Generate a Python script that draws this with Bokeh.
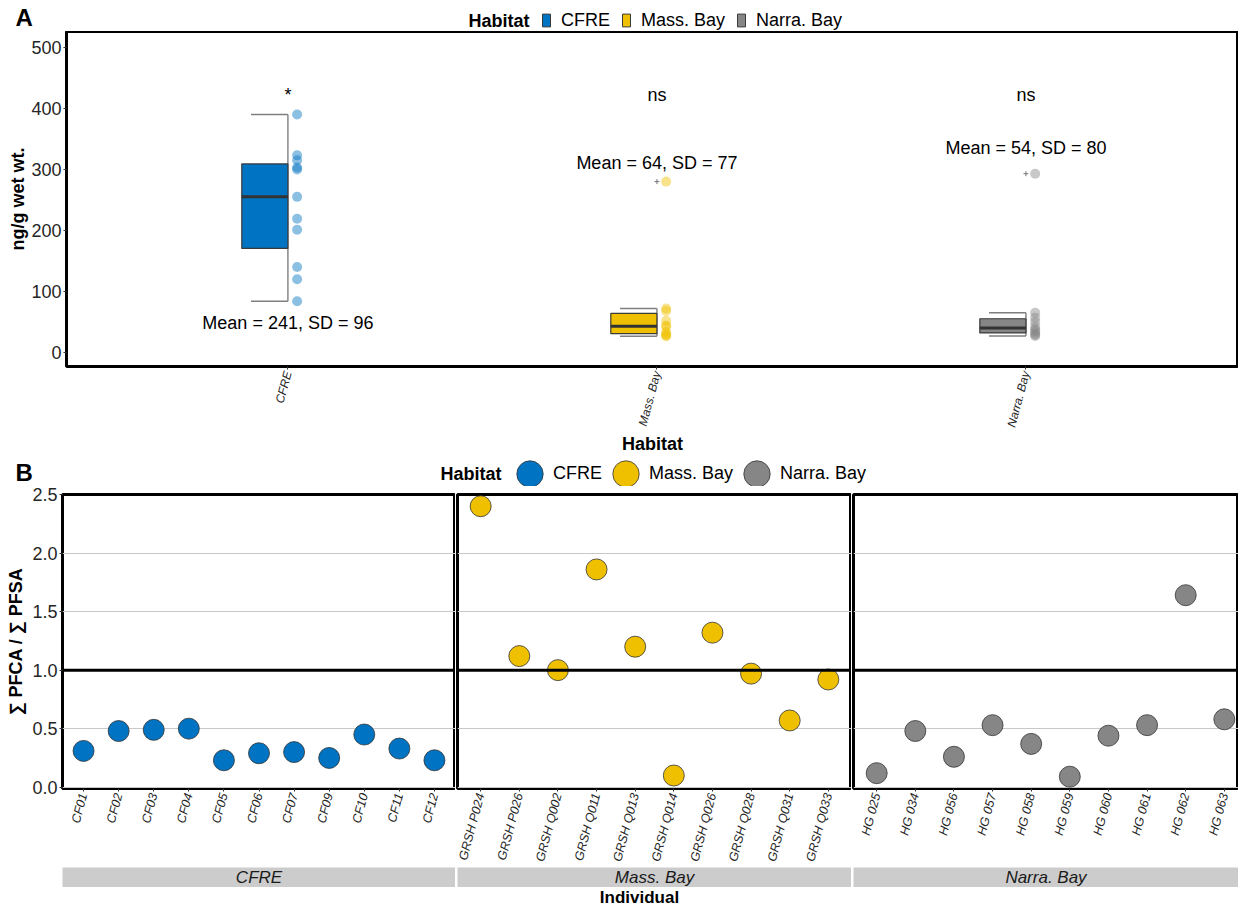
import numpy as np
from bokeh.plotting import figure
from bokeh.models import (Range1d, FixedTicker, Legend, LegendItem, Label, Span,
                          NumeralTickFormatter, ColumnDataSource)
from bokeh.layouts import column, row
from bokeh.embed import file_html
from bokeh.resources import INLINE
from bokeh.core.properties import value

FONT = "Liberation Sans"
TXT = "#262626"
W = 1238

habitats = ["CFRE", "Mass. Bay", "Narra. Bay"]
colors = ["#0073C2", "#EFC000", "#868686"]

# Panel A: concentration per individual (ng/g wet wt.)
conc_cfre = [390, 323, 315, 303, 300, 255, 219, 201, 140, 120, 84]
conc_mass = [280, 72, 68, 52, 44, 42, 33, 30, 28, 26.5]
conc_narra = [293, 65, 57, 50, 42, 38, 35, 31, 29, 27]
mean_vals = [241, 64, 54]
sd_vals = [96, 77, 80]
sig_labels = ["*", "ns", "ns"]

# Panel B: sum PFCA / sum PFSA per individual
ind_cfre = ["CF01", "CF02", "CF03", "CF04", "CF05", "CF06", "CF07", "CF09", "CF10", "CF11", "CF12"]
ratio_cfre = [0.31, 0.48, 0.49, 0.50, 0.23, 0.29, 0.30, 0.25, 0.45, 0.33, 0.23]
ind_mass = ["GRSH P024", "GRSH P026", "GRSH Q002", "GRSH Q011", "GRSH Q013",
            "GRSH Q014", "GRSH Q026", "GRSH Q028", "GRSH Q031", "GRSH Q033"]
ratio_mass = [2.40, 1.12, 1.00, 1.86, 1.20, 0.10, 1.32, 0.97, 0.57, 0.92]
ind_narra = ["HG 025", "HG 034", "HG 056", "HG 057", "HG 058",
             "HG 059", "HG 060", "HG 061", "HG 062", "HG 063"]
ratio_narra = [0.12, 0.48, 0.26, 0.53, 0.37, 0.09, 0.44, 0.53, 1.64, 0.58]

# annotation placement (data units)
mean_label_y = [48, 311, 335]
sig_label_y = [422, 422, 422]


def style_axis(ax, label_size="18px", title_standoff=3):
    ax.major_label_text_font = FONT
    ax.major_label_text_font_size = label_size
    ax.major_label_text_color = TXT
    ax.axis_label_text_font = FONT
    ax.axis_label_text_font_size = "18px"
    ax.axis_label_text_font_style = "bold"
    ax.axis_label_text_color = "black"
    ax.axis_line_color = None
    ax.major_tick_in = 0
    ax.major_tick_out = 3
    ax.major_tick_line_color = "#333333"
    ax.minor_tick_line_color = None
    ax.major_label_standoff = 2
    ax.axis_label_standoff = title_standoff


def bare_fig(width, height):
    """A bare canvas in pixel units for panel letters, legends and titles."""
    f = figure(width=width, height=height, x_range=Range1d(0, width), y_range=Range1d(0, height),
               min_border_left=0, min_border_right=0, min_border_top=0, min_border_bottom=0,
               x_axis_location=None, y_axis_location=None,
               output_backend="svg", toolbar_location=None, outline_line_color=None)
    f.grid.visible = False
    return f


def header(height, letter, letter_y, title_x, title_y):
    h = bare_fig(W, height)
    h.add_layout(Label(x=15, y=letter_y, text=letter, text_font=FONT, text_font_size="24px",
                       text_font_style="bold", text_color="black",
                       text_align="left", text_baseline="middle"))
    h.add_layout(Label(x=title_x, y=title_y, text="Habitat", text_font=FONT,
                       text_font_size="18px", text_font_style="bold", text_color="black",
                       text_align="left", text_baseline="middle"))
    return h


def legend(items, loc, gw, gh, standoff, spacing):
    return Legend(items=items, orientation="horizontal", location=loc,
                  glyph_width=gw, glyph_height=gh, label_standoff=standoff, spacing=spacing,
                  padding=0, margin=0, border_line_color=None, background_fill_alpha=0,
                  label_text_font=FONT, label_text_font_size="18px", label_text_color="black")


# ---------------- Panel A ----------------
headA = header(31, "A", 14, 468, 11)
keyA = [headA.quad(left=[0], right=[1], bottom=[0], top=[1], fill_color=col,
                   line_color="#3A3A3A", line_width=1, visible=False) for col in colors]
headA.add_layout(legend([LegendItem(label=h, renderers=[r]) for h, r in zip(habitats, keyA)],
                        (541, 0.5), 10, 16, 10, 11), "center")

pa = figure(width=W, height=425, x_range=Range1d(0.4, 3.576), y_range=Range1d(-23, 526),
            min_border_left=66, min_border_right=0, min_border_top=0, min_border_bottom=88,
            output_backend="svg", toolbar_location=None)
pa.outline_line_color = "black"
pa.outline_line_width = 3
pa.grid.visible = False

for i, (vals, col) in enumerate(zip([conc_cfre, conc_mass, conc_narra], colors)):
    c = i + 1
    v = np.array(vals, dtype=float)
    q1, med, q3 = np.percentile(v, [25, 50, 75])
    iqr = q3 - q1
    keep = (v >= q1 - 1.5 * iqr) & (v <= q3 + 1.5 * iqr)
    lo, hi = v[keep].min(), v[keep].max()
    out = v[~keep]
    pa.segment(x0=[c, c - 0.1, c - 0.1], y0=[lo, lo, hi], x1=[c, c, c], y1=[hi, lo, hi],
               line_color="#7F7F7F", line_width=1.4)
    pa.quad(left=[c - 0.125], right=[c], bottom=[q1], top=[q3],
            fill_color=col, line_color="#3A3A3A", line_width=1.2)
    pa.segment(x0=[c - 0.125], x1=[c], y0=[med], y1=[med], line_color="#333333", line_width=3)
    if len(out):
        pa.scatter(x=[c] * len(out), y=out, marker="cross", size=5, line_color="#777777")
    pa.scatter(x=[c + 0.025] * len(v), y=v, size=10, fill_color=col, fill_alpha=0.45,
               line_color=None)

stat_src = ColumnDataSource(dict(
    x=[1, 2, 3],
    my=mean_label_y,
    sy=sig_label_y,
    mtxt=[f"Mean = {m}, SD = {s}" for m, s in zip(mean_vals, sd_vals)],
    stxt=sig_labels,
))
pa.text(x="x", y="my", text="mtxt", source=stat_src, text_font=value(FONT),
        text_font_size="18px", text_align="center", text_baseline="middle", text_color="black")
pa.text(x="x", y="sy", text="stxt", source=stat_src, text_font=value(FONT),
        text_font_size="18px", text_align="center", text_baseline="middle", text_color="black")

pa.xaxis.ticker = FixedTicker(ticks=[1, 2, 3])
pa.xaxis.major_label_overrides = {1: habitats[0], 2: habitats[1], 3: habitats[2]}
pa.yaxis.ticker = FixedTicker(ticks=[0, 100, 200, 300, 400, 500])
style_axis(pa.xaxis[0], "12px", 0)
style_axis(pa.yaxis[0], "18px", 0)
pa.xaxis.major_label_text_font_style = "italic"
pa.xaxis.major_label_orientation = np.deg2rad(75)
pa.xaxis.axis_label = "Habitat"
pa.yaxis.axis_label = "ng/g wet wt."

# ---------------- Panel B ----------------
headB = header(30, "B", 14, 440, 13)
# key proxies: kept outside the visible area, only their style feeds the legend
keyB = [headB.ellipse(x=[-100], y=[0], width=26, height=26, fill_color=col,
                      line_color="#333333", line_width=0.8) for col in colors]
headB.add_layout(legend([LegendItem(label=h, renderers=[r]) for h, r in zip(habitats, keyB)],
                        (513, -3.5), 33, 33, 7, 7), "center")

yB = Range1d(-0.011, 2.5)
facet_inds = [ind_cfre, ind_mass, ind_narra]
facet_vals = [ratio_cfre, ratio_mass, ratio_narra]
fig_w = [455, 396, 387]
left_b = [62, 2, 2]
x_end = [11.6, 10.6, 10.367]

cols = []
for i in range(3):
    inds, vals, col = facet_inds[i], facet_vals[i], colors[i]
    n = len(inds)
    p = figure(width=fig_w[i], height=381, x_range=Range1d(0.4, x_end[i]), y_range=yB,
               min_border_left=left_b[i], min_border_right=0, min_border_top=8,
               min_border_bottom=79, y_axis_location="left" if i == 0 else None,
               output_backend="svg", toolbar_location=None)
    p.outline_line_color = "black"
    p.outline_line_width = 3
    p.xgrid.visible = False
    p.ygrid.ticker = FixedTicker(ticks=[0, 0.5, 1.0, 1.5, 2.0, 2.5])
    p.ygrid.grid_line_color = "#C8C8C8"
    p.ygrid.grid_line_width = 1.2
    p.add_layout(Span(location=1.0, dimension="width", line_color="black", line_width=3))
    xs = list(range(1, n + 1))
    p.scatter(x=xs, y=vals, size=21, fill_color=col, line_color="#333333", line_width=0.8)
    p.xaxis.ticker = FixedTicker(ticks=xs)
    p.xaxis.major_label_overrides = {k: name for k, name in zip(xs, inds)}
    style_axis(p.xaxis[0], "12.5px")
    p.xaxis.major_label_text_font_style = "italic"
    p.xaxis.major_label_orientation = np.deg2rad(75)
    if i == 0:
        p.yaxis.ticker = FixedTicker(ticks=[0, 0.5, 1.0, 1.5, 2.0, 2.5])
        p.yaxis.formatter = NumeralTickFormatter(format="0.0")
        style_axis(p.yaxis[0])
        p.yaxis.axis_label = "\u2211 PFCA / \u2211 PFSA"

    s = figure(width=fig_w[i], height=20, x_range=Range1d(0, 1), y_range=Range1d(0, 1),
               min_border_left=left_b[i], min_border_right=0, min_border_top=0,
               min_border_bottom=0, x_axis_location=None, y_axis_location=None,
               output_backend="svg", toolbar_location=None,
               background_fill_color="#CCCCCC", outline_line_color=None)
    s.grid.visible = False
    s.text(x=[0.5], y=[0.5], text=[habitats[i]], text_font=value(FONT), text_font_size="17px",
           text_font_style="italic", text_align="center", text_baseline="middle",
           text_color="#1A1A1A")
    cols.append(column(p, s))

foot = bare_fig(W, 19)
foot.text(x=[639], y=[9], text=["Individual"], text_font=value(FONT), text_font_size="17px",
          text_font_style="bold", text_align="center", text_baseline="middle",
          text_color="black")

layout = column(row(headA), pa, row(headB), row(*cols), row(foot))
open("out.html", "w").write(file_html(layout, INLINE))
